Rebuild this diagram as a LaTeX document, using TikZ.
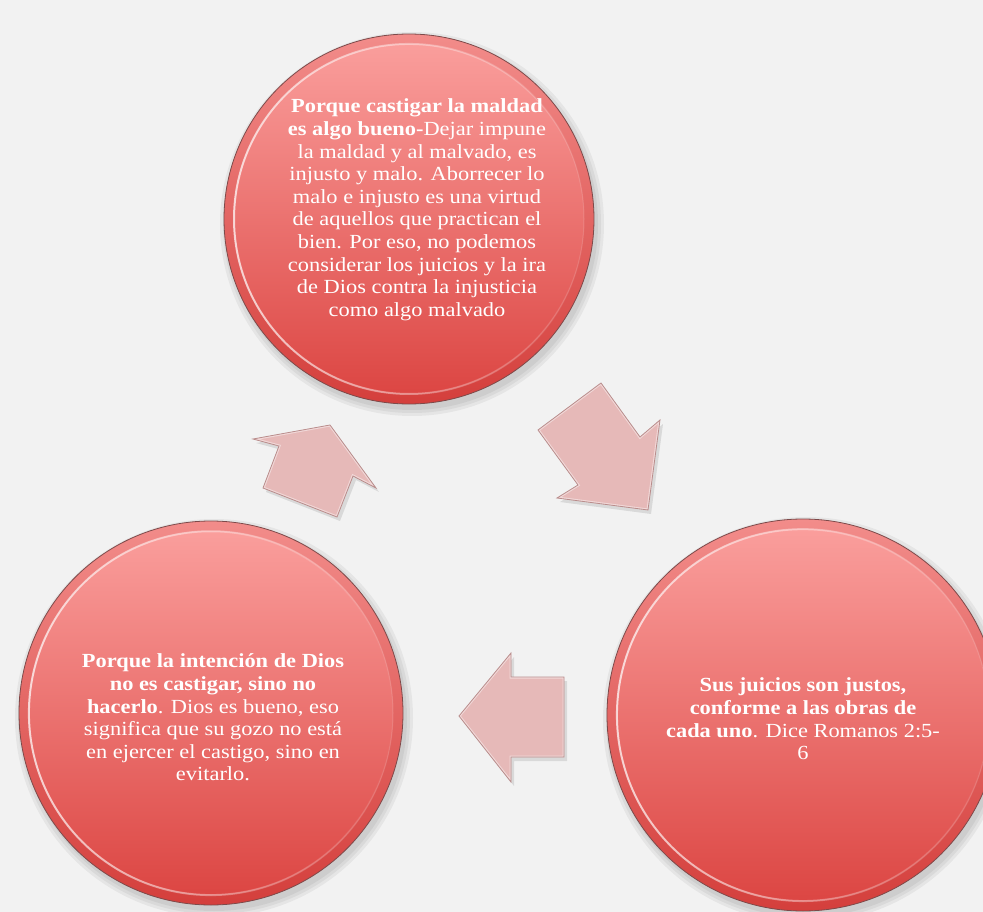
\documentclass[tikz,border=0pt]{standalone}
\usepackage{fontspec}
\setmainfont{Liberation Serif}[FakeStretch=1.12]
\usetikzlibrary{fadings}
\tikzfading[name=hlfade, left color=transparent!0, right color=transparent!100]
\definecolor{bg}{HTML}{F2F2F2}
\definecolor{balltop}{HTML}{FA9E9C}
\definecolor{ballbot}{HTML}{DC4643}
\definecolor{rimtop}{HTML}{F28C8A}
\definecolor{rimbot}{HTML}{D43F3C}
\definecolor{rimline}{HTML}{7D4A4A}
\definecolor{arrowfill}{HTML}{E6B9B8}
\definecolor{arrowline}{HTML}{B98D8C}
\newcommand\drawball[4]{%
  \foreach \k in {7,4,1} {\fill[black, opacity=0.05] (#2+3,#3+5) circle[radius=#4pt+\k pt];}
  \shade[top color=rimtop, bottom color=rimbot] (#2,#3) circle[radius=#4pt];
  \shade[top color=balltop, bottom color=ballbot] (#2,#3) circle[radius=#4pt-10pt];
  \draw[white, opacity=0.7, line width=2pt, path fading=hlfade] (#2,#3) circle[radius=#4pt-10pt];
  \draw[white, opacity=0.15, line width=1pt] (#2,#3) circle[radius=#4pt-10pt];
  \draw[rimline, line width=0.8pt] (#2,#3) circle[radius=#4pt];
  \coordinate (#1) at (#2,#3);
}
\newcommand\drawblockarrow[1]{%
  \fill[black, opacity=0.10, shift={(3,4)}] #1;
  \fill[arrowfill] #1;
  \begin{scope}
    \clip #1;
    \draw[white, opacity=0.45, line width=3pt, line join=miter] #1;
  \end{scope}
  \draw[arrowline, line width=0.8pt, line join=miter] #1;
}
\tikzset{
  balltext/.style={align=center, text=white, inner sep=0pt, anchor=north,
    font=\fontsize{20}{22.6}\selectfont}
}
\begin{document}
\begin{tikzpicture}[x=1pt, y=-1pt]
\useasboundingbox (0,0) rectangle (983,912);
\fill[bg] (0,0) rectangle (983,912);
\clip (0,0) rectangle (983,912);

% circles
\drawball{ctop}{409}{219}{185}
\drawball{cleft}{211}{713}{192}
\drawball{cright}{803}{715}{196}

% block arrows
\drawblockarrow{(601,383) -- (640,437) -- (660,420) -- (648,510) -- (557,498) -- (578,485) -- (538,430) -- cycle}
\drawblockarrow{(564,677) -- (511,677) -- (511,653) -- (459,716) -- (511,782) -- (511,757) -- (564,757) -- cycle}
\drawblockarrow{(330,425) -- (376,488) -- (353,476) -- (337,517) -- (263,488) -- (279,446) -- (253,439) -- cycle}

% texts
\node[balltext] (ttop) at (417,96.7) {\rule{0pt}{16pt}\textbf{Porque castigar la maldad}\\
\textbf{es algo bueno-}Dejar impune\\
la maldad y al malvado, es\\
injusto y malo. Aborrecer lo\\
malo e injusto es una virtud\\
de aquellos que practican el\\
bien. Por eso, no podemos\\
considerar los juicios y la ira\\
de Dios contra la injusticia\\
como algo malvado};

\node[balltext] (tleft) at (213,651.7) {\rule{0pt}{16pt}\textbf{Porque la intención de Dios}\\
\textbf{no es castigar, sino no}\\
\textbf{hacerlo}. Dios es bueno, eso\\
significa que su gozo no está\\
en ejercer el castigo, sino en\\
evitarlo.};

\node[balltext] (tright) at (803,675.7) {\rule{0pt}{16pt}\textbf{Sus juicios son justos,}\\
\textbf{conforme a las obras de}\\
\textbf{cada uno}. Dice Romanos 2:5-\\
6};
\end{tikzpicture}
\end{document}
